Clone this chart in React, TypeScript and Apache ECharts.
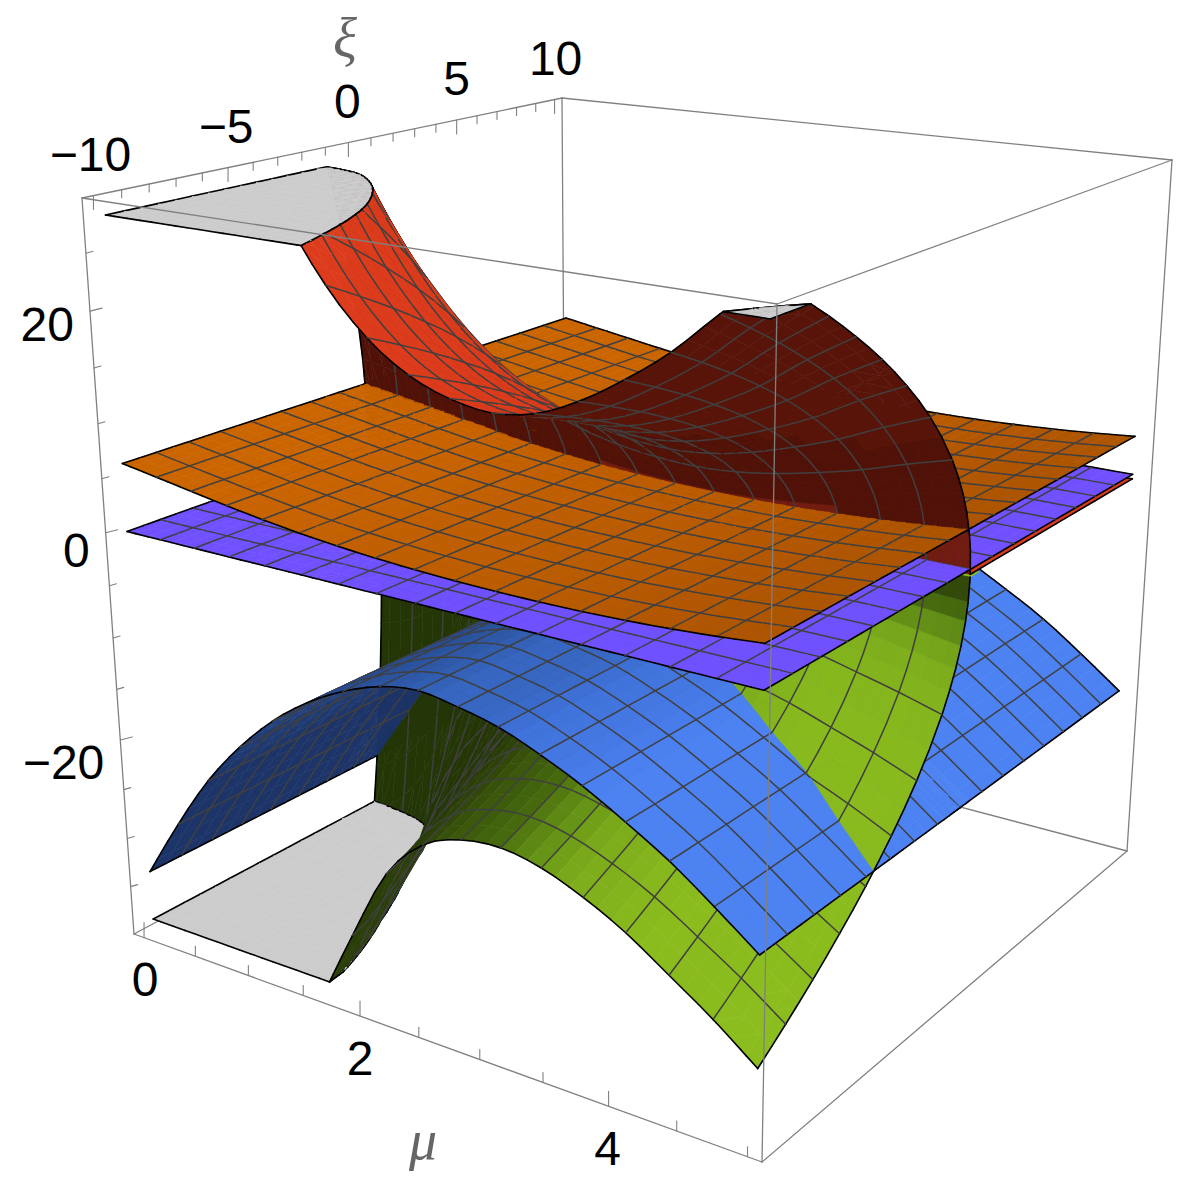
import React, { useEffect, useRef } from "react";
import * as echarts from "echarts";

// ---------- values ----------
const muMesh = [0, 0.3125, 0.625, 0.9375, 1.25, 1.5625, 1.875, 2.1875, 2.5, 2.8125, 3.125, 3.4375, 3.75, 4.0625, 4.375, 4.6875, 5];
const xiNodes = [-10, -9.375, -8.75, -8.125, -7.5, -6.875, -6.25, -5.625, -5, -4.375, -3.75, -3.125, -2.5, -1.875, -1.25, -0.9, -0.6, -0.35, -0.15, -0.05, 0, 0.15, 0.3, 0.42, 0.5, 1.25, 2.5, 3.75, 5, 6.25, 7.5, 8.75, 10];
const riseByXi = [1, 0.968, 0.935, 0.901, 0.866, 0.829, 0.79, 0.75, 0.707, 0.661, 0.612, 0.559, 0.5, 0.433, 0.354, 0.3, 0.245, 0.187, 0.122, 0.07, 0, 0, 0, 0, 0, 0, 0, 0, 0, 0, 0, 0, 0];

const purpleByMu = [0, 0, 0, 0, 0, 0, 0, 0, 0, 0, 0, 0, 0, 0, 0, 0, 0];
const orangeByMu = [6.3, 5.75, 5.2, 4.65, 4.15, 3.72, 3.38, 3.12, 2.93, 2.8, 2.74, 2.73, 2.78, 2.92, 3.12, 3.4, 3.75];
const blueByMu = [-33.6, -27.6, -22.2, -17.9, -14.4, -11.7, -9.7, -8.3, -7.7, -8.2, -9.0, -10.4, -12.1, -14.2, -16.5, -19.3, -22.3];
const redEdgeByMu = [76, 70, 57, 46, 37.5, 30.5, 25.3, 21.6, 19.2, 17.9, 17.4, 18, 19.6, 21.9, 24.6, 28, 31];
const greenEdgeByMu = [-135, -125, -105, -66, -50, -41, -33, -25.8, -21.9, -20.3, -19.9, -20.6, -22.1, -24.1, -26.7, -29.4, -32.5];
const greenShiftByMu = [0.5, 0.5, 0.5, 0.5, 0.45, 0.4, 0.3, 0.2, 0.1, 0.05, 0, 0, 0, 0, 0, 0, 0];
const redRest = -0.45;
const greenRest = -0.7;
const zTop = 28.2;
const zBottom = -38.6;

const muTicks = [0, 0.5, 1, 1.5, 2, 2.5, 3, 3.5, 4, 4.5, 5];
const muLabels = [0, 2, 4];
const xiTicks = [-10, -9, -8, -7, -6, -5, -4, -3, -2, -1, 0, 1, 2, 3, 4, 5, 6, 7, 8, 9, 10];
const xiLabels = [-10, -5, 0, 5, 10];
const zTicks = [-35, -30, -25, -20, -15, -10, -5, 0, 5, 10, 15, 20, 25];
const zLabels = [-20, 0, 20];

// ---------- the view of the box ----------
const MU0 = -0.1, MU1 = 5.1, XI0 = -10.4, XI1 = 10.4, Z0 = -40, Z1 = 29.7;
const HA = -0.17, HB = 0.22, HC = -0.11;
const CORNERS: number[][] = [
  [134, 934], [762, 1162], [566, 703], [1127, 851],
  [82, 198], [777, 304], [562, 98], [1172, 160],
];
type P = [number, number];
function proj(mu: number, xi: number, z: number): P {
  const u = (mu - MU0) / (MU1 - MU0), v = (xi - XI0) / (XI1 - XI0), w = (z - Z0) / (Z1 - Z0);
  let sx = 0, sy = 0, sh = 0;
  for (let i = 0; i < 8; i++) {
    const a = i & 1, b = (i >> 1) & 1, c = (i >> 2) & 1;
    const basis = (a ? u : 1 - u) * (b ? v : 1 - v) * (c ? w : 1 - w);
    const h = (1 + HA * a + HB * b + HC * c) * basis;
    sx += h * CORNERS[i][0]; sy += h * CORNERS[i][1]; sh += h;
  }
  return [sx / sh, sy / sh];
}
// where the eye stands over the (mu, xi) floor, in box units
const EYE_U = 1.9, EYE_V = -2.46;

// ---------- sampling between mesh rows for smooth rendering ----------
const SUB = 3;
function atMu(t: number[], k: number) {
  if (k % SUB === 0) return t[k / SUB];
  const i = Math.floor(k / SUB), f = (k % SUB) / SUB;
  const a = t[Math.max(i - 1, 0)], b = t[i], c = t[i + 1], d = t[Math.min(i + 2, t.length - 1)];
  return 0.5 * (2 * b + (c - a) * f + (2 * a - 5 * b + 4 * c - d) * f * f + (3 * b - a - 3 * c + d) * f * f * f);
}
function riseAt(x: number) {
  if (x <= xiNodes[0]) return riseByXi[0];
  for (let j = 0; j + 1 < xiNodes.length; j++) {
    if (x <= xiNodes[j + 1]) {
      const f = (x - xiNodes[j]) / (xiNodes[j + 1] - xiNodes[j]);
      return riseByXi[j] + (riseByXi[j + 1] - riseByXi[j]) * f;
    }
  }
  return 0;
}
const muFine: number[] = [];
for (let k = 0; k <= (muMesh.length - 1) * SUB; k++) muFine.push(atMu(muMesh, k));

const S_PURPLE = 0, S_ORANGE = 1, S_BLUE = 2, S_RED = 3, S_GREEN = 4;
function surfaceValues(k: number, j: number): number[] {
  const s = riseByXi[j];
  const sg = riseAt(xiNodes[j] - atMu(greenShiftByMu, k));
  return [
    atMu(purpleByMu, k),
    atMu(orangeByMu, k),
    atMu(blueByMu, k),
    redRest + (atMu(redEdgeByMu, k) - redRest) * s,
    greenRest + (atMu(greenEdgeByMu, k) - greenRest) * sg,
  ];
}

type V = { mu: number; xi: number; z: number[] };
const splitters: ((v: V) => number)[] = [
  (v) => v.z[S_RED] - v.z[S_ORANGE],
  (v) => v.z[S_RED] - v.z[S_PURPLE],
  (v) => v.z[S_GREEN] - v.z[S_BLUE],
  (v) => v.z[S_RED] - zTop,
  (v) => v.z[S_GREEN] - zBottom,
];
function mix(a: V, b: V, t: number): V {
  return { mu: a.mu + (b.mu - a.mu) * t, xi: a.xi + (b.xi - a.xi) * t, z: a.z.map((q, i) => q + (b.z[i] - q) * t) };
}
function cut(poly: V[], f: (v: V) => number): V[][] {
  const pos: V[] = [], neg: V[] = [];
  for (let i = 0; i < poly.length; i++) {
    const a = poly[i], b = poly[(i + 1) % poly.length];
    const fa = f(a), fb = f(b);
    if (fa >= 0) pos.push(a);
    if (fa <= 0) neg.push(a);
    if ((fa > 0 && fb < 0) || (fa < 0 && fb > 0)) {
      const m = mix(a, b, fa / (fa - fb));
      pos.push(m); neg.push(m);
    }
  }
  const out: V[][] = [];
  if (pos.length > 2) out.push(pos);
  if (neg.length > 2) out.push(neg);
  return out;
}
function eyeDistance(poly: V[]) {
  let mu = 0, xi = 0;
  for (const v of poly) { mu += v.mu; xi += v.xi; }
  const u = (mu / poly.length - MU0) / (MU1 - MU0), w = (xi / poly.length - XI0) / (XI1 - XI0);
  return Math.hypot(u - EYE_U, w - EYE_V);
}

// ---------- colours ----------
type Stop = [number, number[]];
const purpleStops: Stop[] = [[0, [112, 80, 255]], [1, [112, 80, 255]]];
const orangeStops: Stop[] = [[0.75, [174, 85, 0]], [0.88, [204, 102, 0]]];
const blueStops: Stop[] = [[0.05, [28, 52, 104]], [0.8, [50, 96, 180]], [0.9, [56, 104, 196]], [0.95, [64, 114, 218]], [0.985, [76, 130, 242]]];
const redStops: Stop[] = [[0.3, [184, 52, 24]], [0.9, [220, 60, 28]]];
const greenStops: Stop[] = [[0.05, [36, 54, 6]], [0.5, [52, 76, 10]], [0.8, [70, 105, 14]], [0.9, [95, 140, 20]], [0.97, [128, 176, 28]], [1, [140, 190, 30]]];
const stopsBySurface = [purpleStops, orangeStops, blueStops, redStops, greenStops];
function colorAt(stops: Stop[], t: number) {
  let c = stops[stops.length - 1][1];
  if (t <= stops[0][0]) c = stops[0][1];
  else for (let i = 0; i + 1 < stops.length; i++) {
    if (t >= stops[i][0] && t <= stops[i + 1][0]) {
      const f = (t - stops[i][0]) / (stops[i + 1][0] - stops[i][0]);
      c = stops[i][1].map((q, n) => q + (stops[i + 1][1][n] - q) * f);
      break;
    }
  }
  return `rgb(${Math.round(c[0])},${Math.round(c[1])},${Math.round(c[2])})`;
}
const GREY = "#cccccc";
const MESH = "#404040";
const EDGE = "#000000";
const BOX = "#808080";

// ---------- building the picture, far cells first ----------
type Prim =
  | { t: "poly"; pts: P[]; fill: string }
  | { t: "line"; a: P; b: P; color: string; w: number }
  | { t: "text"; p: P; text: string; size: number; family: string; color: string; align: string; italic?: boolean };

function clampZ(z: number) { return Math.min(Math.max(z, zBottom), zTop); }
function area(p: P[]) {
  let s = 0;
  for (let i = 0; i < p.length; i++) { const q = p[(i + 1) % p.length]; s += p[i][0] * q[1] - q[0] * p[i][1]; }
  return s;
}
function buildSurfaces(out: Prim[]) {
  const nk = muFine.length - 1, nj = xiNodes.length - 1;
  const isMeshXi = (x: number) => Math.abs(x / 1.25 - Math.round(x / 1.25)) < 1e-9;
  for (let k = 0; k < nk; k++) {
    for (let j = nj - 1; j >= 0; j--) {
      const m0 = muFine[k], m1 = muFine[k + 1], x0 = xiNodes[j], x1 = xiNodes[j + 1];
      const a: V = { mu: m0, xi: x0, z: surfaceValues(k, j) };
      const b: V = { mu: m1, xi: x0, z: surfaceValues(k + 1, j) };
      const c: V = { mu: m1, xi: x1, z: surfaceValues(k + 1, j + 1) };
      const d: V = { mu: m0, xi: x1, z: surfaceValues(k, j + 1) };
      const corners = [a, b, c, d];
      const active = splitters.filter((f) => {
        const v = corners.map(f);
        return Math.max(...v) > 0 && Math.min(...v) < 0;
      });
      let polys: V[][] = active.length ? [[a, b, c], [a, c, d]] : [[a, b, c, d]];
      for (const f of active) polys = polys.flatMap((p) => cut(p, f));
      polys.sort((p, q) => eyeDistance(q) - eyeDistance(p));
      const refSign = Math.sign(area(corners.map((v) => proj(v.mu, v.xi, v.z[S_PURPLE]))));
      const look = [0, 1, 2, 3, 4].map((s) => {
        let dzMu = ((b.z[s] + c.z[s]) - (a.z[s] + d.z[s])) / 2 / (m1 - m0);
        // the green sheet keeps the light of its front edge all the way back
        if (s === S_GREEN) dzMu = (atMu(greenEdgeByMu, k + 1) - atMu(greenEdgeByMu, k)) / (m1 - m0);
        const dzXi = ((c.z[s] + d.z[s]) - (a.z[s] + b.z[s])) / 2 / (x1 - x0);
        const zu = dzMu * (MU1 - MU0) / (Z1 - Z0), zv = dzXi * (XI1 - XI0) / (Z1 - Z0);
        const t = (-zu * 0.6 + 0.8) / Math.hypot(zu, zv * (s === S_GREEN ? 0.2 : 0.4), 1);
        const under = Math.sign(area(corners.map((v) => proj(v.mu, v.xi, clampZ(v.z[s]))))) !== refSign;
        const zm = (a.z[s] + c.z[s]) / 2;
        let fill = colorAt(stopsBySurface[s], t);
        if (under && s === S_RED) fill = zm < 3 ? "rgb(112,28,16)" : zm < 12 ? "rgb(80,18,8)" : "rgb(88,20,9)";
        if (under && s === S_GREEN) fill = "rgb(42,62,8)";
        return fill;
      });
      for (const poly of polys) {
        const avg = (s: number) => poly.reduce((q, v) => q + clampZ(v.z[s]), 0) / poly.length;
        const order = [0, 1, 2, 3, 4].sort((p, q) => avg(p) - avg(q));
        for (const s of order) {
          if (s === S_GREEN && x0 >= 0.5) continue;
          if (s === S_RED && x0 >= 0 && k < nk - 1) continue;
          const capped =
            (s === S_RED && poly.every((v) => v.z[s] >= zTop - 1e-7)) ||
            (s === S_GREEN && poly.every((v) => v.z[s] <= zBottom + 1e-7));
          const pts = poly.map((v) => proj(v.mu, v.xi, clampZ(v.z[s])));
          out.push({ t: "poly", pts, fill: capped ? GREY : look[s] });
          const meshLimit = s === S_GREEN ? 0.5 : s === S_RED ? 0.001 : 100;
          for (let i = 0; i < poly.length; i++) {
            const u = poly[i], w = poly[(i + 1) % poly.length];
            const pa = pts[i], pb = pts[(i + 1) % poly.length];
            const onCap =
              (s === S_RED && Math.abs(u.z[s] - zTop) < 1e-7 && Math.abs(w.z[s] - zTop) < 1e-7) ||
              (s === S_GREEN && Math.abs(u.z[s] - zBottom) < 1e-7 && Math.abs(w.z[s] - zBottom) < 1e-7);
            let color = "";
            if (onCap) color = EDGE;
            else if (u.mu === w.mu && u.mu === m0) {
              if (k === 0) color = EDGE;
              else if (k % SUB === 0 && !capped && x1 <= meshLimit) color = MESH;
            } else if (u.mu === w.mu && u.mu === m1 && k === nk - 1) {
              if (!(s === S_GREEN && x0 >= 0)) color = EDGE;
            } else if (u.xi === w.xi && u.xi === x1) {
              if (j === nj - 1) color = EDGE;
              else if (isMeshXi(x1) && !capped && (s < S_RED || x1 < 0)) color = MESH;
            } else if (u.xi === w.xi && u.xi === x0 && j === 0) color = EDGE;
            if (color) out.push({ t: "line", a: pa, b: pb, color, w: color === EDGE ? 1.6 : 1.5 });
          }
        }
      }
    }
  }
}

function boxLine(out: Prim[], i: number, j: number, w = 1.3) {
  out.push({ t: "line", a: CORNERS[i] as P, b: CORNERS[j] as P, color: BOX, w });
}
function buildPrims(): Prim[] {
  const out: Prim[] = [];
  // back of the box
  boxLine(out, 4, 6); boxLine(out, 6, 7); boxLine(out, 6, 2); boxLine(out, 0, 2); boxLine(out, 2, 3);
  boxLine(out, 4, 0); boxLine(out, 7, 3);
  // ticks
  for (const m of muTicks) {
    const p = proj(m, XI0, Z0);
    const len = muLabels.includes(m) ? 15 : 10;
    out.push({ t: "line", a: p, b: [p[0], p[1] - len], color: BOX, w: 1.1 });
  }
  for (const x of xiTicks) {
    const p = proj(MU0, x, Z1);
    const len = xiLabels.includes(x) ? 14 : 8;
    out.push({ t: "line", a: p, b: [p[0], p[1] + len], color: BOX, w: 1.1 });
  }
  for (const z of zTicks) {
    const p = proj(MU0, XI0, z);
    const major = zLabels.includes(z);
    out.push({ t: "line", a: p, b: [p[0] + (major ? 12 : 7), p[1] - (major ? 3 : 2)], color: BOX, w: 1.1 });
  }
  buildSurfaces(out);
  // front of the box
  boxLine(out, 4, 5); boxLine(out, 5, 7); boxLine(out, 5, 1); boxLine(out, 0, 1); boxLine(out, 1, 3);
  // labels
  const font = '"Liberation Sans", Arial, sans-serif';
  const neg = (n: number) => (n < 0 ? "\u2212" + Math.abs(n) : String(n));
  for (const m of muLabels) {
    const p = proj(m, XI0, Z0);
    out.push({ t: "text", p: [p[0] + 1 - m * 0.5, p[1] + 42], text: String(m), size: 48, family: font, color: "#000", align: "center" });
  }
  for (const x of xiLabels) {
    const p = proj(MU0, x, Z1);
    out.push({ t: "text", p: [p[0] - 1 + x * 0.2, p[1] - 41], text: neg(x), size: 48, family: font, color: "#000", align: "center" });
  }
  for (const z of zLabels) {
    const p = proj(MU0, XI0, z);
    out.push({ t: "text", p: [p[0] - 16, p[1] + 18 - z * 0.225], text: neg(z), size: 48, family: font, color: "#000", align: "right" });
  }
  out.push({ t: "text", p: [345, 38], text: "\u03be", size: 56, family: '"Liberation Serif", serif', color: "#666", align: "center", italic: true });
  out.push({ t: "text", p: [423, 1140], text: "\u03bc", size: 56, family: '"Liberation Serif", serif', color: "#666", align: "center", italic: true });
  return out;
}

export default function App() {
  const ref = useRef<HTMLDivElement>(null);
  useEffect(() => {
    document.body.style.margin = "0";
    const chart = echarts.init(ref.current!, undefined, { renderer: "svg" });
    const prims = buildPrims();
    chart.setOption({
      animation: false,
      backgroundColor: "#fff",
      grid: { left: 0, right: 0, top: 0, bottom: 0 },
      xAxis: { type: "value", min: 0, max: 1186, show: false },
      yAxis: { type: "value", min: 0, max: 1192, inverse: true, show: false },
      series: [{
        type: "custom",
        coordinateSystem: "cartesian2d",
        silent: true,
        clip: false,
        data: [[0, 0]],
        renderItem: (_: any, api: any) => {
          const c = (p: P) => api.coord(p);
          const children = prims.map((q) => {
            if (q.t === "poly") {
              return { type: "polygon", shape: { points: q.pts.map(c) }, style: { fill: q.fill, stroke: q.fill, lineWidth: 0.6 } };
            }
            if (q.t === "line") {
              const a = c(q.a), b = c(q.b);
              return { type: "line", shape: { x1: a[0], y1: a[1], x2: b[0], y2: b[1] }, style: { stroke: q.color, lineWidth: q.w, lineCap: "round" } };
            }
            const p = c(q.p);
            return {
              type: "text",
              style: {
                text: q.text, x: p[0], y: p[1], fill: q.color, fontSize: q.size, fontFamily: q.family,
                fontStyle: q.italic ? "italic" : "normal", align: q.align, verticalAlign: "middle",
              },
            };
          });
          return { type: "group", children };
        },
      }],
    });
    return () => chart.dispose();
  }, []);
  return <div ref={ref} style={{ position: "absolute", left: 0, top: 0, width: 1186, height: 1192 }} />;
}
